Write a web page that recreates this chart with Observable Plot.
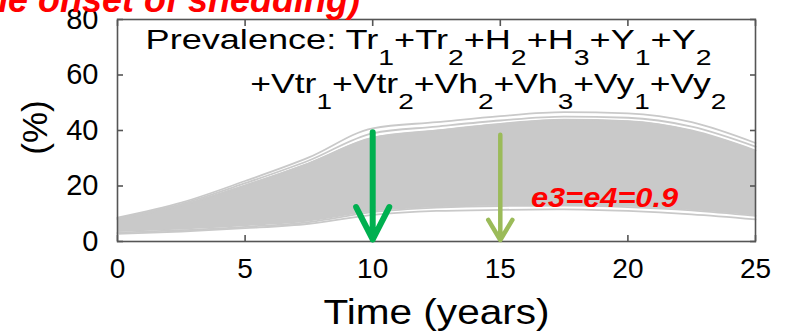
<!DOCTYPE html>
<html><head><meta charset="utf-8">
<script src="https://cdn.jsdelivr.net/npm/d3@7"></script>
<script src="https://cdn.jsdelivr.net/npm/@observablehq/plot@0.6"></script>
<style>
html,body{margin:0;padding:0;background:#fff;overflow:hidden;}
#wrap{position:relative;width:790px;height:333px;overflow:hidden;}
#title{position:absolute;right:430px;top:-18px;font-family:"Liberation Sans",Arial,sans-serif;font-style:italic;font-weight:bold;font-size:36px;line-height:36px;color:#ff0000;white-space:nowrap;}
#chart svg{display:block;}
</style></head><body>
<div id="wrap"><div id="chart"></div><div id="title"></div></div>
<script>
// ---- data ----
const titleText = "(after the onset of shedding)";
const years = [0, 2.5, 5, 7.5, 10, 12.5, 15, 17.5, 20, 22.5, 25];
const runTop1 = [8.6, 14.0, 21.8, 30.3, 40.8, 43.0, 45.2, 46.6, 46.2, 43.0, 35.5];
const runTop2 = [8.3, 13.5, 21.0, 29.2, 39.0, 41.4, 43.6, 45.0, 44.6, 41.4, 34.2];
const bandUpper = [8.0, 13.0, 20.2, 28.2, 37.4, 40.0, 42.4, 43.9, 43.4, 40.0, 32.8];
const bandLower = [3.2, 4.1, 5.3, 7.0, 10.6, 12.2, 12.8, 12.9, 12.4, 11.2, 9.2];
const runBottom = [2.8, 3.6, 4.8, 6.4, 9.6, 11.0, 11.4, 11.6, 11.0, 9.8, 8.0];
const xTicks = [0, 5, 10, 15, 20, 25];
const yTicks = [0, 20, 40, 60, 80];
const arrowYears = [10, 15];
const arrowTops = [39.4, 38.5];
const arrowColors = ["#00b050", "#9bbb59"];
const noteLine1 = "Prevalence: Tr_1+Tr_2+H_2+H_3+Y_1+Y_2";
const noteLine2 = "+Vtr_1+Vtr_2+Vh_2+Vh_3+Vy_1+Vy_2";
const effLabel = "e3=e4=0.9";
const xLabel = "Time (years)";
const yLabel = "(%)";

// ---- tables ----
const band = years.map((t, i) => ({t, lo: bandLower[i], hi: bandUpper[i]}));
const runs = {top1: runTop1, top2: runTop2, upper: bandUpper, lower: bandLower, bottom: runBottom};
const lineRows = Object.entries(runs).flatMap(([run, vals]) => years.map((t, i) => ({t, v: vals[i], run})));
const arrows = arrowYears.map((t, i) => ({t, top: arrowTops[i], color: arrowColors[i]}));

const font = "'Liberation Sans', Arial, sans-serif";
const frameColor = "#555";

const chart = Plot.plot({
  width: 790, height: 333,
  marginLeft: 117, marginRight: 35, marginTop: 19, marginBottom: 92,
  style: {fontFamily: font, background: "white", color: "black"},
  x: {domain: [0, 25], label: null},
  y: {domain: [0, 80], label: null},
  marks: [
    Plot.areaY(band, {x: "t", y1: "lo", y2: "hi", fill: "#c9c9c9", curve: "monotone-x"}),
    Plot.line(lineRows, {x: "t", y: "v", z: "run", stroke: "#c9c9c9", strokeWidth: 1.8, curve: "monotone-x"}),
    Plot.frame({stroke: frameColor, strokeWidth: 1.6}),
    Plot.axisX({anchor: "bottom", ticks: xTicks, tickSize: -6, tickFormat: () => "", stroke: frameColor, strokeWidth: 1.6, label: null}),
    Plot.axisX({anchor: "top", ticks: xTicks, tickSize: -6, tickFormat: () => "", stroke: frameColor, strokeWidth: 1.6, label: null}),
    Plot.axisY({anchor: "left", ticks: yTicks, tickSize: -6, tickFormat: () => "", stroke: frameColor, strokeWidth: 1.6, label: null}),
    Plot.axisY({anchor: "right", ticks: yTicks, tickSize: -6, tickFormat: () => "", stroke: frameColor, strokeWidth: 1.6, label: null}),
    Plot.axisX({anchor: "bottom", ticks: xTicks, tickSize: 0, tickPadding: 17, fontSize: 28, label: null, tickFormat: d => String(d)}),
    Plot.axisY({anchor: "left", ticks: yTicks, tickSize: 0, tickPadding: 19, fontSize: 29, label: null, tickFormat: d => String(d)}),
    Plot.text([xLabel], {frameAnchor: "bottom", dy: 82, lineAnchor: "bottom", textAnchor: "middle", fontSize: 35}),
    Plot.text([yLabel], {frameAnchor: "left", dx: -71, dy: -3, rotate: -90, lineAnchor: "bottom", textAnchor: "middle", fontSize: 35}),
    Plot.text([noteLine1], {x: 1.1, y: 69.2, textAnchor: "start", lineAnchor: "bottom", fontSize: 28}),
    Plot.text([noteLine2], {x: 5.2, y: 53.5, textAnchor: "start", lineAnchor: "bottom", fontSize: 28}),
    Plot.text([effLabel], {x: 16.2, y: 12.5, textAnchor: "start", lineAnchor: "bottom", fontSize: 28, fontWeight: "bold", fontStyle: "italic", fill: "#ff0000"}),
    Plot.arrow([arrows[0]], {x1: "t", x2: "t", y1: "top", y2: 0, stroke: "color", strokeWidth: 6, headLength: 9.3, headAngle: 54, insetEnd: 2, strokeLinejoin: "round"}),
    Plot.arrow([arrows[1]], {x1: "t", x2: "t", y1: "top", y2: 0, stroke: "color", strokeWidth: 4.5, headLength: 7.8, headAngle: 62, insetEnd: 1.5, strokeLinejoin: "round"})
  ]
});
document.getElementById("chart").append(chart);
document.getElementById("title").textContent = titleText;

const allText = Array.from(chart.querySelectorAll("text"));
const byContent = s => allText.filter(el => el.textContent === s);

// subscripts: "_d" -> lowered smaller digit
const NS = "http://www.w3.org/2000/svg";
const subSize = 22, subDrop = 16;
function subscripts(el) {
  const s = el.textContent;
  el.textContent = "";
  const re = /_(\d)/g;
  let last = 0, m, shifted = false;
  while ((m = re.exec(s))) {
    const a = document.createElementNS(NS, "tspan");
    a.textContent = s.slice(last, m.index);
    if (shifted) a.setAttribute("dy", -subDrop);
    el.append(a);
    const b = document.createElementNS(NS, "tspan");
    b.textContent = m[1];
    b.setAttribute("dy", subDrop);
    b.setAttribute("font-size", subSize);
    el.append(b);
    shifted = true;
    last = re.lastIndex;
  }
  if (last < s.length) {
    const a = document.createElementNS(NS, "tspan");
    a.textContent = s.slice(last);
    if (shifted) a.setAttribute("dy", -subDrop);
    el.append(a);
  }
}
const note1Els = byContent(noteLine1), note2Els = byContent(noteLine2);
[...note1Els, ...note2Els].forEach(subscripts);

// horizontal stretch of the source figure's lettering
function stretch(els, sx) {
  els.forEach(el => {
    el.setAttribute("transform", (el.getAttribute("transform") || "") + ` scale(${sx},1)`);
  });
}
stretch(note1Els, 1.29);
stretch(note2Els, 1.27);
stretch(byContent(effLabel), 1.1);
stretch(byContent(xLabel), 1.16);
</script>
</body></html>
